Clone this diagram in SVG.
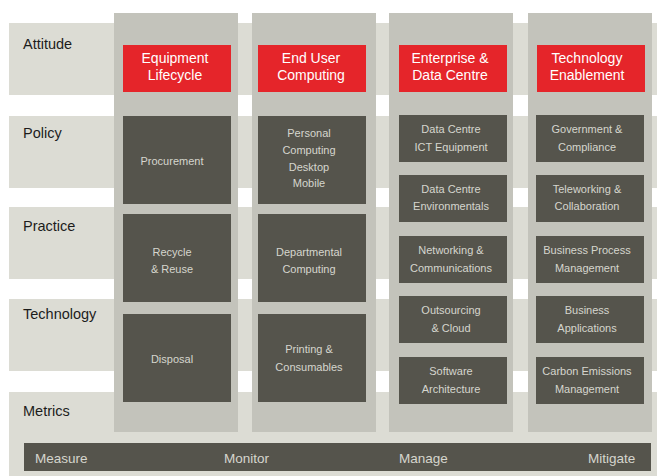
<svg xmlns="http://www.w3.org/2000/svg" width="657" height="476" viewBox="0 0 657 476">
<style>
.band{fill:#dcdcd4}
.col{fill:#c3c3bb}
.red{fill:#e5252a}
.dark{fill:#55544c}
text{font-family:"Liberation Sans",Arial,sans-serif}
.row{font-size:14.5px;fill:#1c1c1c}
.rt{font-size:14px;fill:#ffffff;text-anchor:middle}
.dt{font-size:11px;fill:#d6d6ce;text-anchor:middle}
.bt{font-size:13.5px;fill:#d6d6ce}
</style>
<rect width="657" height="476" fill="#ffffff"/>
<g id="rows">
<rect class="band" x="9" y="23" width="648" height="72"/>
<rect class="band" x="9" y="116" width="648" height="72"/>
<rect class="band" x="9" y="207" width="648" height="72"/>
<rect class="band" x="9" y="299" width="648" height="72"/>
<rect class="band" x="9" y="392" width="648" height="84"/>
<text class="row" x="23" y="49">Attitude</text>
<text class="row" x="23" y="138">Policy</text>
<text class="row" x="23" y="231">Practice</text>
<text class="row" x="23" y="319">Technology</text>
<text class="row" x="23" y="416">Metrics</text>
</g>
<g id="columns">
<rect class="col" x="114" y="13" width="124" height="419"/>
<rect class="col" x="252" y="13" width="124" height="419"/>
<rect class="col" x="389" y="13" width="124" height="419"/>
<rect class="col" x="528" y="13" width="124" height="419"/>
</g>
<g id="equipment-lifecycle">
<rect class="red" x="123" y="45" width="108" height="47"/>
<text class="rt" x="175" y="63">Equipment</text>
<text class="rt" x="175" y="80">Lifecycle</text>
</g>
<g id="end-user-computing">
<rect class="red" x="258" y="45" width="108" height="47"/>
<text class="rt" x="311" y="63">End User</text>
<text class="rt" x="311" y="80">Computing</text>
</g>
<g id="enterprise-data-centre">
<rect class="red" x="399" y="45" width="108" height="47"/>
<text class="rt" x="450" y="63">Enterprise &amp;</text>
<text class="rt" x="450" y="80">Data Centre</text>
</g>
<g id="technology-enablement">
<rect class="red" x="537" y="45" width="108" height="47"/>
<text class="rt" x="587" y="63">Technology</text>
<text class="rt" x="587" y="80">Enablement</text>
</g>
<g id="procurement">
<rect class="dark" x="123" y="116" width="108" height="88"/>
<text class="dt" x="172" y="165">Procurement</text>
</g>
<g id="recycle-reuse">
<rect class="dark" x="123" y="214" width="108" height="88"/>
<text class="dt" x="172" y="256">Recycle</text>
<text class="dt" x="172" y="273">&amp; Reuse</text>
</g>
<g id="disposal">
<rect class="dark" x="123" y="314" width="108" height="88"/>
<text class="dt" x="172" y="363">Disposal</text>
</g>
<g id="personal-computing">
<rect class="dark" x="258" y="116" width="108" height="88"/>
<text class="dt" x="309" y="137">Personal</text>
<text class="dt" x="309" y="154">Computing</text>
<text class="dt" x="309" y="171">Desktop</text>
<text class="dt" x="309" y="187">Mobile</text>
</g>
<g id="departmental-computing">
<rect class="dark" x="258" y="214" width="108" height="88"/>
<text class="dt" x="309" y="256">Departmental</text>
<text class="dt" x="309" y="273">Computing</text>
</g>
<g id="printing-consumables">
<rect class="dark" x="258" y="314" width="108" height="88"/>
<text class="dt" x="309" y="353">Printing &amp;</text>
<text class="dt" x="309" y="371">Consumables</text>
</g>
<g id="dc-ict">
<rect class="dark" x="399" y="115" width="108" height="47"/>
<text class="dt" x="451" y="133">Data Centre</text>
<text class="dt" x="451" y="151">ICT Equipment</text>
</g>
<g id="dc-env">
<rect class="dark" x="399" y="175" width="108" height="47"/>
<text class="dt" x="451" y="193">Data Centre</text>
<text class="dt" x="451" y="210">Environmentals</text>
</g>
<g id="networking">
<rect class="dark" x="399" y="236" width="108" height="47"/>
<text class="dt" x="451" y="254">Networking &amp;</text>
<text class="dt" x="451" y="272">Communications</text>
</g>
<g id="outsourcing">
<rect class="dark" x="399" y="296" width="108" height="47"/>
<text class="dt" x="451" y="314">Outsourcing</text>
<text class="dt" x="451" y="332">&amp; Cloud</text>
</g>
<g id="software">
<rect class="dark" x="399" y="357" width="108" height="47"/>
<text class="dt" x="451" y="375">Software</text>
<text class="dt" x="451" y="393">Architecture</text>
</g>
<g id="government">
<rect class="dark" x="536" y="115" width="108" height="47"/>
<text class="dt" x="587" y="133">Government &amp;</text>
<text class="dt" x="587" y="151">Compliance</text>
</g>
<g id="teleworking">
<rect class="dark" x="536" y="175" width="108" height="47"/>
<text class="dt" x="587" y="193">Teleworking &amp;</text>
<text class="dt" x="587" y="210">Collaboration</text>
</g>
<g id="bpm">
<rect class="dark" x="536" y="236" width="108" height="47"/>
<text class="dt" x="587" y="254">Business Process</text>
<text class="dt" x="587" y="272">Management</text>
</g>
<g id="business-apps">
<rect class="dark" x="536" y="296" width="108" height="47"/>
<text class="dt" x="587" y="314">Business</text>
<text class="dt" x="587" y="332">Applications</text>
</g>
<g id="carbon">
<rect class="dark" x="536" y="357" width="108" height="47"/>
<text class="dt" x="587" y="375">Carbon Emissions</text>
<text class="dt" x="587" y="393">Management</text>
</g>
<g id="metrics-bar">
<rect class="dark" x="24" y="443" width="627" height="28"/>
<text class="bt" x="35" y="463">Measure</text>
<text class="bt" x="224" y="463">Monitor</text>
<text class="bt" x="399" y="463">Manage</text>
<text class="bt" x="588" y="463">Mitigate</text>
</g>
<g id="connectors"></g>
</svg>
